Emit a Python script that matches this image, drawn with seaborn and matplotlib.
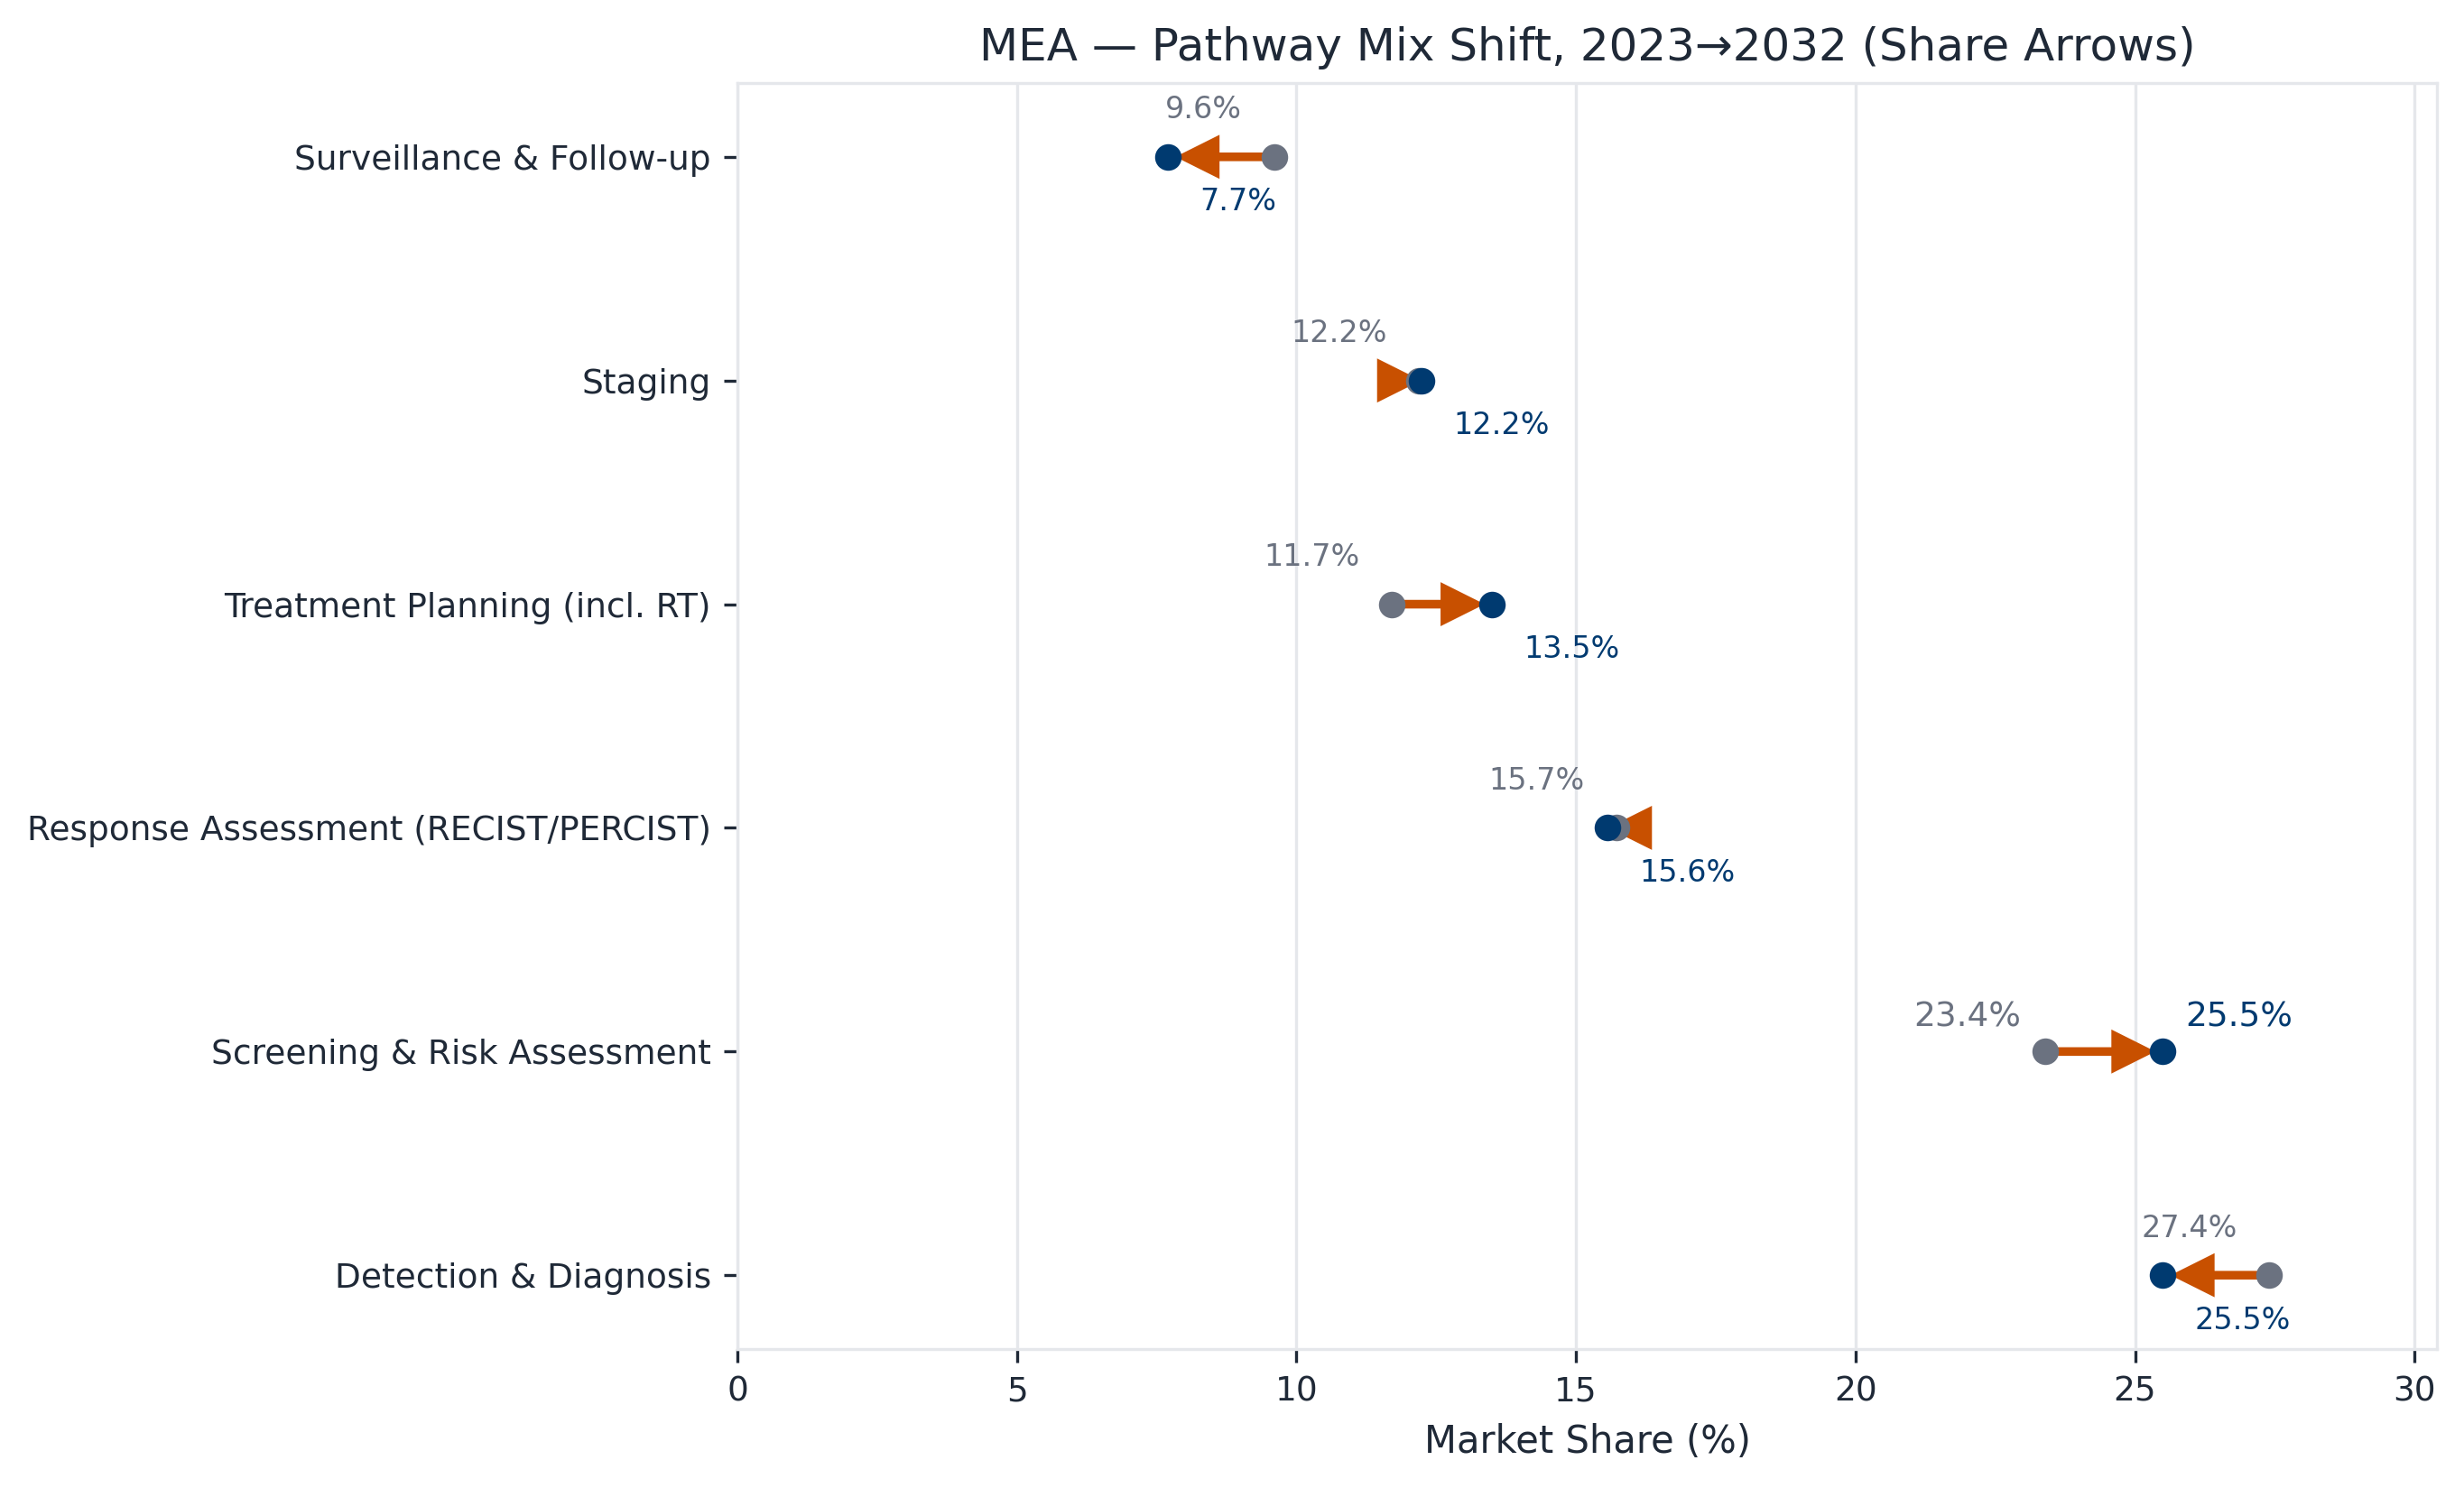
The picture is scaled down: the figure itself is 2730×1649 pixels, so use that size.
import numpy as np
import pandas as pd
import matplotlib
matplotlib.use('Agg')
import matplotlib.pyplot as plt
import seaborn as sns

# pathway segments, top to bottom
categories = ['Surveillance & Follow-up', 'Staging', 'Treatment Planning (incl. RT)',
              'Response Assessment (RECIST/PERCIST)', 'Screening & Risk Assessment',
              'Detection & Diagnosis']
share_2023 = [9.6, 12.19, 11.7, 15.72, 23.4, 27.4]
share_2032 = [7.7, 12.23, 13.5, 15.57, 25.5, 25.5]

navy = '#003A70'
grey = '#6B7280'
orange = '#C85000'
ink = '#1F2937'
light = '#E5E7EB'

df = pd.DataFrame({'segment': categories, 'y': np.arange(len(categories)),
                   's2023': share_2023, 's2032': share_2032})

sns.set_style('white')
plt.rcParams['font.family'] = ['DejaVu Sans']

fig, ax = plt.subplots(figsize=(9.1, 5.4967), dpi=300)
fig.subplots_adjust(left=0.2993, right=0.989, top=0.9442, bottom=0.0934)

ax.grid(axis='x', color=light, linewidth=0.8, zorder=0)
ax.set_axisbelow(True)

for _, r in df.iterrows():
    ax.annotate('', xy=(r['s2032'], r['y']), xytext=(r['s2023'], r['y']),
                arrowprops=dict(arrowstyle='-|>', color=orange, lw=2.3, mutation_scale=20,
                                joinstyle='miter', capstyle='butt'),
                zorder=2)

sns.scatterplot(data=df, x='s2023', y='y', color=grey, s=50, linewidth=0, zorder=3, ax=ax)
sns.scatterplot(data=df, x='s2032', y='y', color=navy, s=50, linewidth=0, zorder=4, ax=ax)

hi = int(np.argmax(np.abs(df['s2032'] - df['s2023'])))
for i, r in df.iterrows():
    if i == hi:
        fs, off_a, off_b = 9, (-6.5, 9), (6, 9)
    else:
        fs, off_a, off_b = 8, (-8.5, 12.5), (8.5, -12)
    ax.annotate(f"{r['s2023']:.1f}%", xy=(r['s2023'], r['y']), xytext=off_a,
                textcoords='offset points', ha='right', va='center', fontsize=fs, color=grey)
    ax.annotate(f"{r['s2032']:.1f}%", xy=(r['s2032'], r['y']), xytext=off_b,
                textcoords='offset points', ha='left', va='center', fontsize=fs, color=navy)

ax.set_yticks(df['y'])
ax.set_yticklabels(categories)
ax.set_ylim(len(categories) - 1 + 0.33, -0.33)
ax.set_xlim(0, 30.4)
ax.set_xticks([0, 5, 10, 15, 20, 25, 30])
ax.tick_params(axis='both', labelsize=9, colors=ink, length=3.5, width=0.8, left=True, bottom=True)
for sp in ax.spines.values():
    sp.set_color(light)
    sp.set_linewidth(0.8)

ax.set_xlabel('Market Share (%)', fontsize=10, color=ink)
ax.set_ylabel('')
ax.set_title('MEA — Pathway Mix Shift, 2023→2032 (Share Arrows)', fontsize=12, color=ink)

fig.savefig('out.png', dpi=300)
